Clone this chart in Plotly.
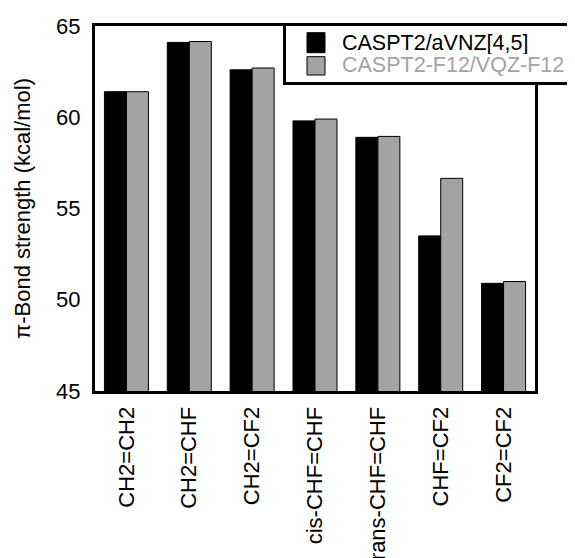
import plotly.graph_objects as go

categories = ["CH2=CH2", "CH2=CHF", "CH2=CF2", "cis-CHF=CHF",
              "trans-CHF=CHF", "CHF=CF2", "CF2=CF2"]
caspt2_avnz = [61.4, 64.1, 62.6, 59.8, 58.9, 53.5, 50.9]
caspt2_f12 = [61.4, 64.15, 62.7, 59.9, 58.95, 56.65, 51.0]
series_names = ["CASPT2/aVNZ[4,5]", "CASPT2-F12/VQZ-F12"]
y_ticks = [45, 50, 55, 60, 65]

BLACK = "#000000"
GRAY = "#a3a3a3"
FONT = "Liberation Sans, Arial, sans-serif"
FS = 22
LFS = 21.5

# page layout (the page body adds an 8px offset)
L, T, PW, PH = 87, 18, 440, 365
W, H = 575, 558
OFF = 8


def xp(px):
    return (px - OFF - L) / PW


def yp(py):
    return (T + PH + OFF - py) / PH


fig = go.Figure()
fig.add_trace(go.Bar(x=categories, y=caspt2_avnz, name=series_names[0],
                     marker=dict(color=BLACK, line=dict(color=BLACK, width=1)),
                     showlegend=False))
fig.add_trace(go.Bar(x=categories, y=caspt2_f12, name=series_names[1],
                     marker=dict(color=GRAY, line=dict(color=BLACK, width=1)),
                     showlegend=False))

# legend drawn as box + swatches + text
shapes = [
    dict(type="rect", xref="paper", yref="paper",
         x0=xp(284.5), x1=xp(571.5), y0=yp(83.5), y1=yp(24.5),
         line=dict(color="black", width=3), fillcolor="white", layer="above"),
    dict(type="rect", xref="paper", yref="paper",
         x0=xp(307), x1=xp(325), y0=yp(52.7), y1=yp(32.7),
         line=dict(color="black", width=1), fillcolor=BLACK, layer="above"),
    dict(type="rect", xref="paper", yref="paper",
         x0=xp(307), x1=xp(325), y0=yp(75), y1=yp(56.7),
         line=dict(color="black", width=1), fillcolor=GRAY, layer="above"),
]
annotations = [
    dict(text=series_names[0], xref="paper", yref="paper", x=xp(341), y=yp(43),
         xanchor="left", yanchor="middle", showarrow=False, height=22, borderpad=0,
         font=dict(family=FONT, size=LFS, color=BLACK)),
    dict(text=series_names[1], xref="paper", yref="paper", x=xp(341), y=yp(65),
         xanchor="left", yanchor="middle", showarrow=False, height=22, borderpad=0,
         font=dict(family=FONT, size=LFS, color=GRAY)),
]

fig.update_layout(
    width=W, height=H,
    margin=dict(l=L, r=W - L - PW, t=T, b=H - T - PH, pad=0, autoexpand=False),
    paper_bgcolor="white", plot_bgcolor="white",
    barmode="group", bargap=0.3, bargroupgap=0,
    font=dict(family=FONT, size=FS, color="black"),
    showlegend=False,
    shapes=shapes,
    annotations=annotations,
)
fig.update_xaxes(showline=True, linecolor="black", linewidth=3, mirror=True,
                 ticks="", tickangle=-90, showgrid=False, automargin=False,
                 ticklabelstandoff=4,
                 tickfont=dict(family=FONT, size=FS))
fig.update_yaxes(range=[45, 65], tickvals=y_ticks, showline=True, linecolor="black",
                 linewidth=3, mirror=True, ticks="", showgrid=False, zeroline=False,
                 automargin=False, ticklabelstandoff=7,
                 tickfont=dict(family=FONT, size=FS),
                 title=dict(text="π-Bond strength (kcal/mol)",
                            font=dict(family=FONT, size=FS), standoff=20))

fig.write_html("out.html")
